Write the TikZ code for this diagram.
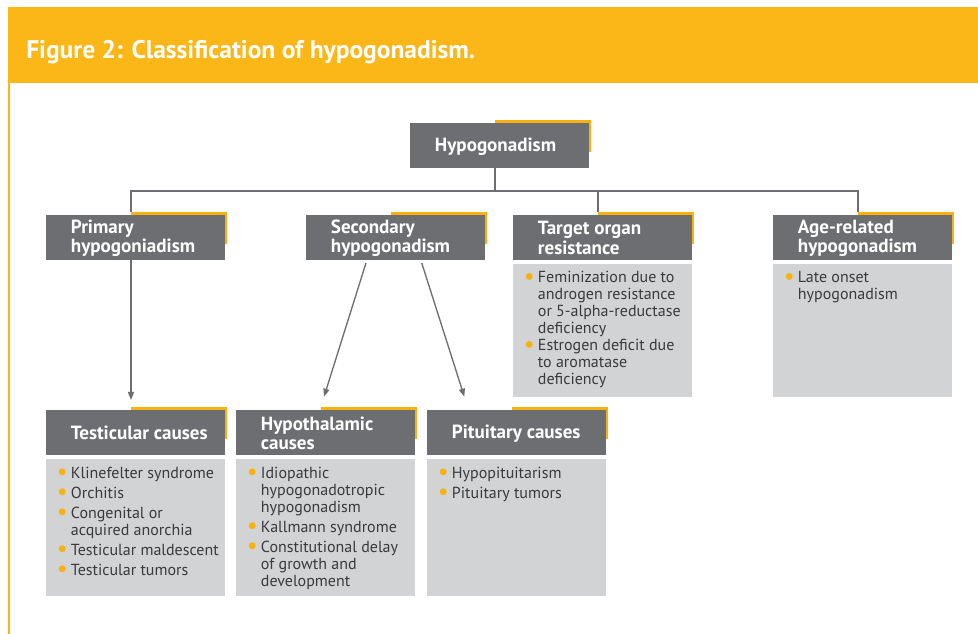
\documentclass[tikz,border=0pt]{standalone}
\usepackage{fontspec}
\setmainfont{PT Sans}
\usetikzlibrary{arrows.meta}
\definecolor{hyel}{HTML}{FBB718}
\definecolor{acc}{HTML}{F8B10E}
\definecolor{dg}{HTML}{6D6E71}
\definecolor{lg}{HTML}{D1D3D4}
\definecolor{tx}{HTML}{3A3A3C}
\newcommand{\yb}{\makebox[9.15pt][l]{\tikz[baseline=0pt]\fill[acc] (2.5pt,4.9pt) circle (2.6pt);}}
\newcommand{\heading}[4]{%
  \fill[acc] (#2+85,#3-3) rectangle (#2+181,#3+29);
  \node[hd] (#1) at (#2,#3) {};
  \node[ht] (#1t) at ([xshift=18.5pt,yshift=-0.6pt]#1.west) {#4};}
\tikzset{
  hd/.style={fill=dg, minimum width=134.25pt, minimum height=33.75pt, anchor=north west, inner sep=0, outer sep=0},
  ht/.style={anchor=west, align=left, text=white, font=\fontsize{14.3}{14.8}\selectfont\bfseries, inner sep=0},
  bd/.style={fill=lg, minimum width=134.25pt, anchor=north west, inner sep=0, outer sep=0},
  bt/.style={anchor=base west, inner sep=0, text=tx, font=\fontsize{12}{12.75}\selectfont},
  ln/.style={draw=dg, line width=1pt},
  arr/.style={ln, -{Triangle[length=6pt,width=4.5pt]}}
}
\begin{document}
\begin{tikzpicture}[x=0.75pt,y=-0.75pt]
\useasboundingbox (0,0) rectangle (978,634);
% frame
\fill[hyel] (8,7) rectangle (978,83);
\draw[hyel, line width=1.2pt] (8.8,83) -- (8.8,634);
\node[anchor=base west, text=white, font=\fontsize{19.1}{21}\selectfont\bfseries, inner sep=0] (title) at (26,58.5) {Figure 2: Classification of hypogonadism.};
% headings
\heading{hyp}{410}{123}{Hypogonadism}
\heading{prim}{46}{215}{Primary\\hypogoniadism}
\heading{sec}{306}{215}{Secondary\\hypogonadism}
\heading{targ}{513}{215}{Target organ\\resistance}
\heading{age}{773}{215}{Age-related\\hypogonadism}
\heading{test}{46}{410}{Testicular causes}
\heading{hypo}{236}{410}{Hypothalamic\\causes}
\heading{pit}{427}{410}{Pituitary causes}
% bodies
\node[bd, minimum height=99.75pt] (targb) at (513,264) {};
\node[bd, minimum height=99.75pt] (ageb) at (773,264) {};
\node[bd, minimum height=102.3pt] (testb) at (46,459.3) {};
\node[bd, minimum height=102.3pt] (hypob) at (236,459.3) {};
\node[bd, minimum height=102.3pt] (pitb) at (427,459.3) {};
\node[bt] (targl) at (525.5,283) {\begin{tabular}[t]{@{}l@{}l@{}}
\yb & Feminization due to\\
 & androgen resistance\\
 & or 5-alpha-reductase\\
 & deficiency\\
\yb & Estrogen deficit due\\
 & to aromatase\\
 & deficiency
\end{tabular}};
\node[bt] (agel) at (785.5,283) {\begin{tabular}[t]{@{}l@{}l@{}}
\yb & Late onset\\
 & hypogonadism
\end{tabular}};
\node[bt] (testl) at (58.5,478.3) {\begin{tabular}[t]{@{}l@{}l@{}}
\yb & Klinefelter syndrome\\[2.25pt]
\yb & Orchitis\\[2.25pt]
\yb & Congenital or\\
 & acquired anorchia\\[2.25pt]
\yb & Testicular maldescent\\[2.25pt]
\yb & Testicular tumors
\end{tabular}};
\node[bt] (hypol) at (248.5,478.3) {\begin{tabular}[t]{@{}l@{}l@{}}
\yb & Idiopathic\\
 & hypogonadotropic\\
 & hypogonadism\\[2.25pt]
\yb & Kallmann syndrome\\[2.25pt]
\yb & Constitutional delay\\
 & of growth and\\
 & development
\end{tabular}};
\node[bt] (pitl) at (439.5,478.3) {\begin{tabular}[t]{@{}l@{}l@{}}
\yb & Hypopituitarism\\[2.25pt]
\yb & Pituitary tumors
\end{tabular}};
% connectors
\draw[ln] ([xshift=63.75pt]hyp.south west) -- ++(0,24) coordinate (j);
\draw[ln] ([xshift=63.75pt,yshift=2.25pt]prim.north west) -- ++(0,-21) -| ([xshift=63.75pt,yshift=2.25pt]age.north west);
\draw[ln] ([xshift=63.75pt,yshift=2.25pt]targ.north west) -- ++(0,-21);
\draw[arr] ([xshift=63.75pt]prim.south west) -- ([xshift=63.75pt,yshift=7.5pt]test.north west);
\draw[arr] ([xshift=45pt,yshift=-2.25pt]sec.south west) -- ([xshift=66pt,yshift=10pt]hypo.north west);
\draw[arr] ([xshift=86.8pt,yshift=-2.25pt]sec.south west) -- ([xshift=28pt,yshift=10pt]pit.north west);
\end{tikzpicture}
\end{document}
